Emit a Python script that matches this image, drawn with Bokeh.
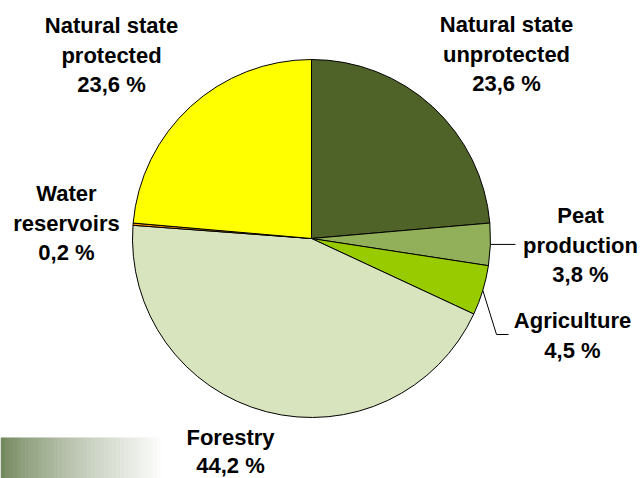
import numpy as np
from bokeh.plotting import figure
from bokeh.models import Range1d
from bokeh.embed import file_html
from bokeh.resources import INLINE
from bokeh.core.properties import value

# ---- data ----
categories = ["Natural state\nunprotected", "Peat\nproduction", "Agriculture",
              "Forestry", "Water\nreservoirs", "Natural state\nprotected"]
shares = [23.6, 3.8, 4.5, 44.2, 0.2, 23.6]
colors = ["#4f6228", "#92b05a", "#99cc00", "#d7e4bd", "#ff9900", "#ffff00"]

# ---- layout (screen px of the page) ----
W, H = 642, 478
def sx(x):
    return x
def sy(y):
    return H - y

p = figure(width=W, height=H, x_range=Range1d(0, W), y_range=Range1d(0, H),
           output_backend="svg", toolbar_location=None, min_border=0)
p.axis.visible = False
p.grid.visible = False
p.outline_line_color = None
p.background_fill_color = "white"
p.border_fill_color = "white"

# decorative gradient band bottom-left
n = 40
x0, x1 = sx(0), sx(165)
edges = np.linspace(x0, x1, n + 1)
c0 = np.array([116, 136, 94])
cols = []
for i in range(n):
    t = (i / (n - 1)) ** 0.8
    c = (c0 * (1 - t) + np.array([255, 255, 255]) * t).astype(int)
    cols.append("#%02x%02x%02x" % tuple(c))
p.quad(left=edges[:-1], right=edges[1:] + 0.5, bottom=sy(478), top=sy(437),
       fill_color=cols, line_color=None)

# pie
cx, cy, R = sx(311), sy(238), 179
total = sum(shares)
cum = np.concatenate([[0], np.cumsum(shares)]) / total
starts = np.pi / 2 - 2 * np.pi * cum[:-1]
ends = np.pi / 2 - 2 * np.pi * cum[1:]
p.wedge(x=cx, y=cy, radius=R, start_angle=starts, end_angle=ends,
        direction="clock", fill_color=colors, line_color="black", line_width=1)

# labels (center x, first line position, line spacing)
label_pos = [(506, 24, 29.5), (580, 215, 29.5), (572, 320, 29.5),
             (230, 437, 28.0), (66, 193, 29.5), (111, 25, 29.5)]
tx, ty, tt = [], [], []
for cat, v, (lx, ly, sp) in zip(categories, shares, label_pos):
    lines = cat.split("\n") + [f"{v:.1f}".replace(".", ",") + " %"]
    for k, ln in enumerate(lines):
        tx.append(sx(lx))
        ty.append(sy(ly + k * sp))
        tt.append(ln)
p.text(x=tx, y=ty, text=tt, text_align="center", text_baseline="alphabetic",
       text_font=value("Liberation Sans"), text_font_style="bold",
       text_font_size="22px", text_color="black")

# leader lines
mid = (starts + ends) / 2
a = mid[1]
p.line(x=[cx + R * np.cos(a), sx(515)], y=[cy + R * np.sin(a)] * 2,
       line_color="black", line_width=1)
a = mid[2]
p.line(x=[cx + R * np.cos(a), sx(496), sx(508)],
       y=[cy + R * np.sin(a), sy(334), sy(334)],
       line_color="black", line_width=1)

open("out.html", "w").write(file_html(p, INLINE))
